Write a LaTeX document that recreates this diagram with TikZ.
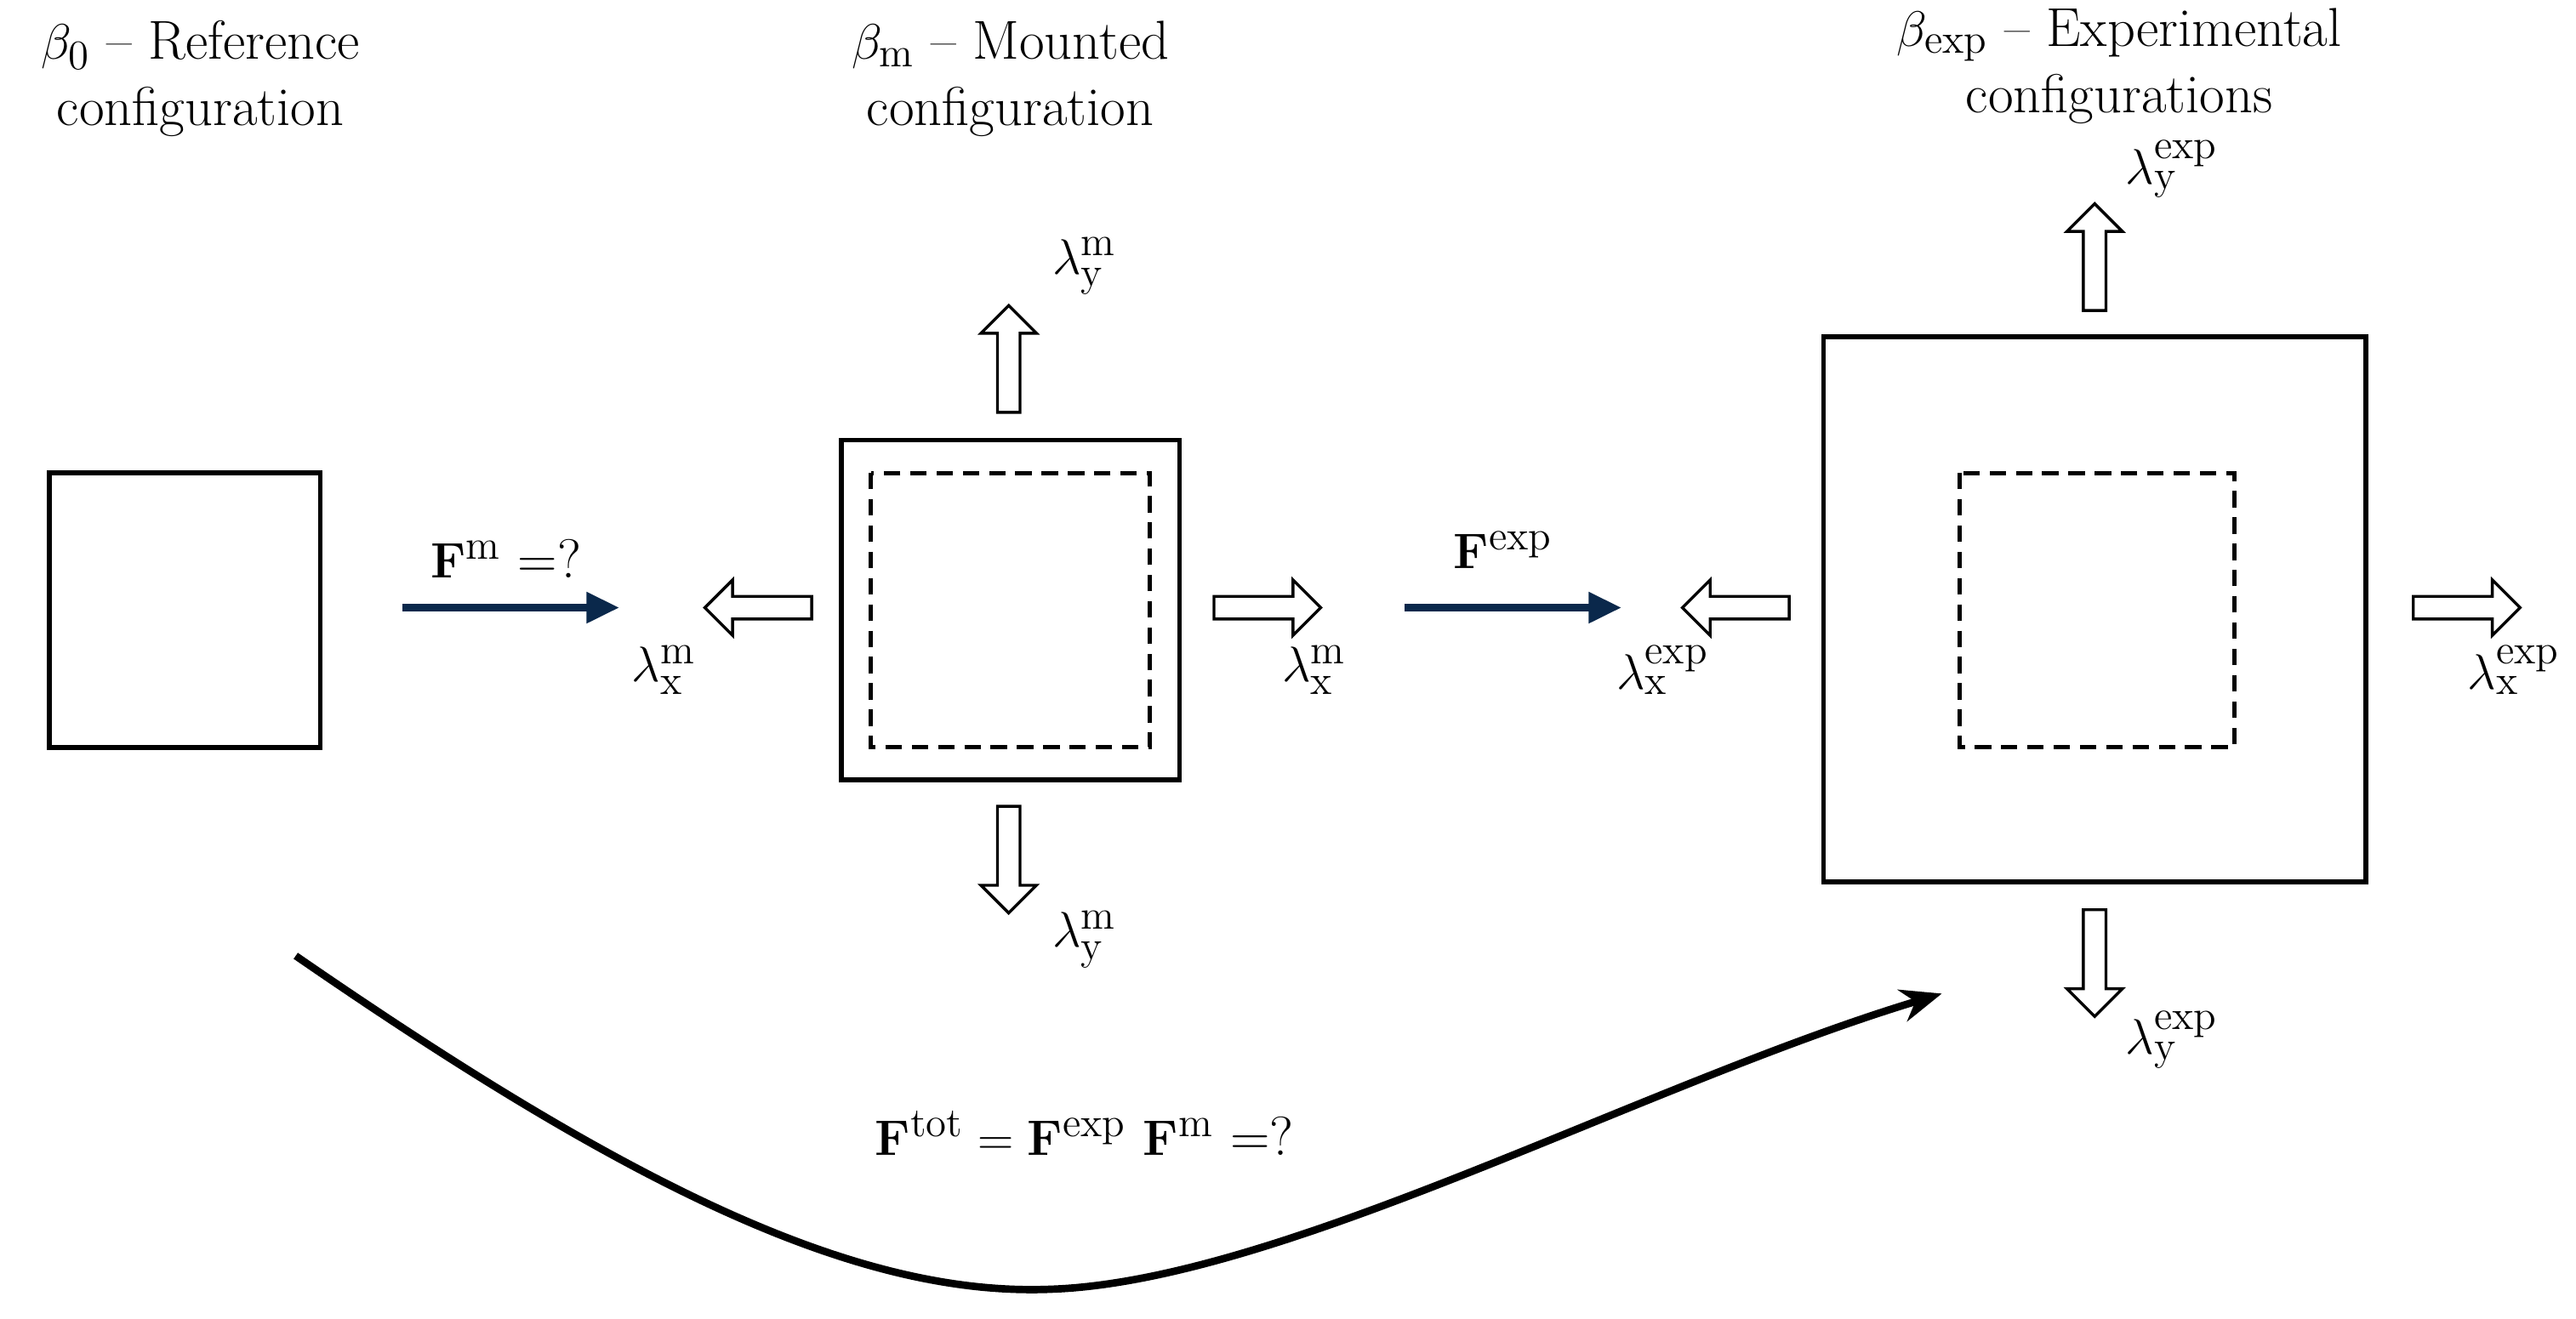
\documentclass[tikz,border=0pt]{standalone}
\usetikzlibrary{shapes.arrows,arrows.meta}
\definecolor{navy}{RGB}{10,40,75}
\tikzset{
  box/.style={draw,line width=0.6mm},
  inbox/.style={draw,line width=0.5mm,dash pattern=on 2mm off 1.2mm},
  hollow/.style={single arrow,draw,line width=0.35mm,inner sep=1.2mm,
    minimum height=13mm,single arrow head extend=2mm,
    single arrow head indent=0pt},
  lam/.style={font=\fontsize{19}{22}\selectfont},
  title/.style={align=center,font=\fontsize{19}{23}\selectfont},
  force/.style={navy,line width=0.9mm,-{Triangle[length=4mm,width=3.6mm]}}
}
\begin{document}
\begin{tikzpicture}[x=0.2mm,y=-0.2mm]
\useasboundingbox (0,0) rectangle (1568,803);
% titles
\node[title] (t0) at (122,48) {$\beta_0$ -- Reference\\configuration};
\node[title] (tm) at (615,48) {$\beta_{\mathrm{m}}$ -- Mounted\\configuration};
\node[title] (te) at (1290,40) {$\beta_{\mathrm{exp}}$ -- Experimental\\configurations};

% reference configuration
\draw[box] (30,288) rectangle (195,455);

% mounted configuration
\draw[box] (512,268) rectangle (718,475);
\draw[inbox] (530,288) rectangle (700,455);
\node[hollow,rotate=90] (mu) at (614,222) {};
\node[hollow,rotate=-90] (md) at (614,520) {};
\node[hollow,rotate=180] (ml) at (465,370) {};
\node[hollow] (mr) at (768,370) {};
\node[lam] at (660,162) {$\lambda_{\mathrm{y}}^{\mathrm{m}}$};
\node[lam] at (660,572) {$\lambda_{\mathrm{y}}^{\mathrm{m}}$};
\node[lam] at (404,408) {$\lambda_{\mathrm{x}}^{\mathrm{m}}$};
\node[lam] at (800,408) {$\lambda_{\mathrm{x}}^{\mathrm{m}}$};

% experimental configuration
\draw[box] (1110,205) rectangle (1440,537);
\draw[inbox] (1193,288) rectangle (1360,455);
\node[hollow,rotate=90] (eu) at (1275,160) {};
\node[hollow,rotate=-90] (ed) at (1275,583) {};
\node[hollow,rotate=180] (el) at (1060,370) {};
\node[hollow] (er) at (1498,370) {};
\node[lam] at (1322,103) {$\lambda_{\mathrm{y}}^{\mathrm{exp}}$};
\node[lam] at (1322,633) {$\lambda_{\mathrm{y}}^{\mathrm{exp}}$};
\node[lam] at (1012,408) {$\lambda_{\mathrm{x}}^{\mathrm{exp}}$};
\node[lam] at (1530,408) {$\lambda_{\mathrm{x}}^{\mathrm{exp}}$};

% deformation gradients
\coordinate (a1) at (245,370);
\coordinate (a2) at (377,370);
\coordinate (b1) at (855,370);
\coordinate (b2) at (987,370);
\draw[force] (a1) -- (a2);
\draw[force] (b1) -- (b2);
\node[lam] at (308,340) {$\mathbf{F}^{\mathrm{m}}$ =?};
\node[lam] at (915,335) {$\mathbf{F}^{\mathrm{exp}}$};

% total
\coordinate (c1) at (180,582);
\coordinate (cm) at (640,785);
\coordinate (c2) at (1182,605);
\draw[line width=0.9mm,-{Stealth[length=5mm,width=4mm]}] (c1) .. controls (380,720) and (520,790) .. (cm)
  .. controls (780,780) and (1000,660) .. (c2);
\node[lam] at (660,690) {$\mathbf{F}^{\mathrm{tot}}=\mathbf{F}^{\mathrm{exp}}\ \mathbf{F}^{\mathrm{m}}$ =?};
\end{tikzpicture}
\end{document}
